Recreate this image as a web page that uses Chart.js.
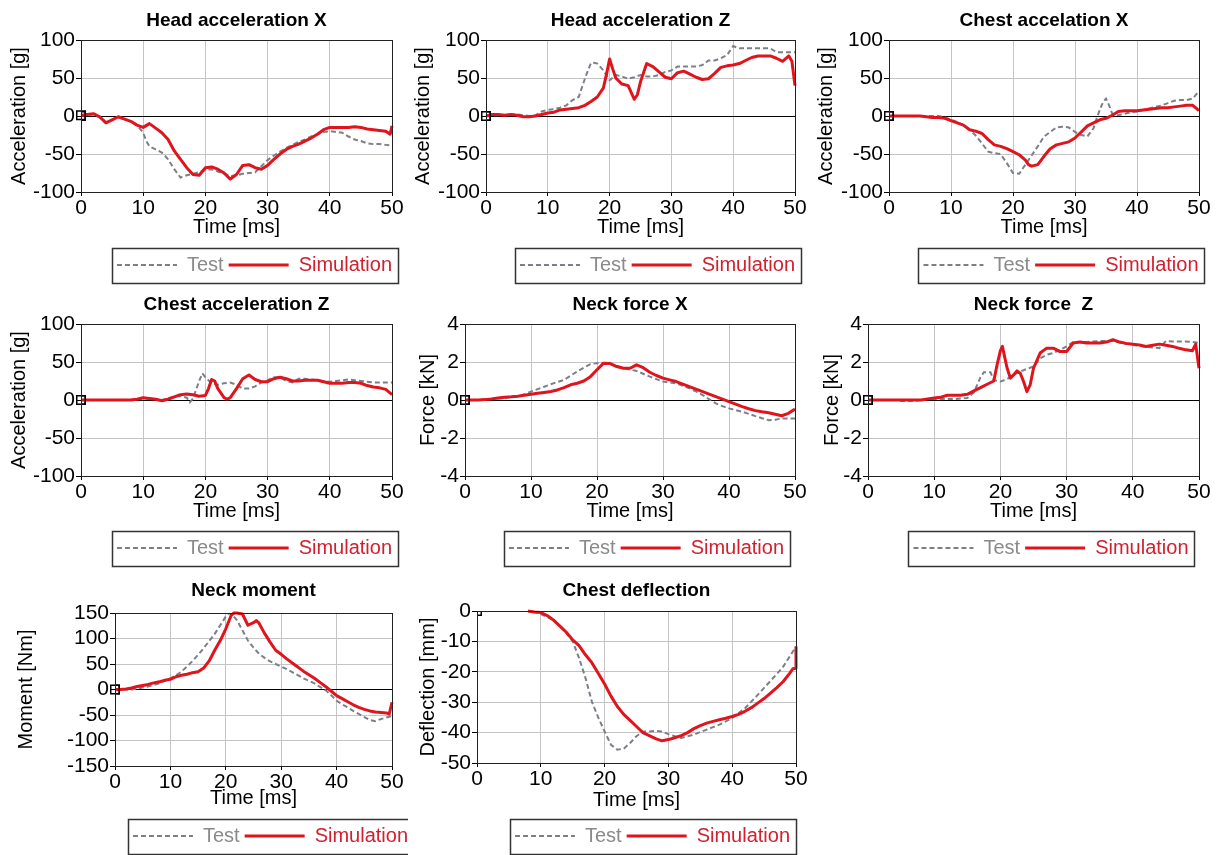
<!DOCTYPE html>
<html>
<head>
<meta charset="utf-8">
<title>Test vs simulation</title>
<script src="https://cdn.jsdelivr.net/npm/chart.js@4.4.0/dist/chart.umd.min.js"></script>
<style>
  body { margin: 0; background: #fff; width: 1220px; height: 855px; overflow: hidden; position: relative; }
  canvas { position: absolute; }
</style>
</head>
<body>
<script>
// time axis shared by series sampled every ms
const ms = [0,1,2,3,4,5,6,7,8,9,10,11,12,13,14,15,16,17,18,19,20,21,22,23,24,25,26,27,28,29,30,31,32,33,34,35,36,37,38,39,40,41,42,43,44,45,46,47,48,49,50];

/* Head acceleration X */
const headXTestT = [0,1,2,3,4,5,6,7,8,9,10,10.5,11,12,13,14,15,16,17,18,19,20,21,22,23,24,25,26,27,28,29,30,31,32,33,34,35,36,37,38,39,40,41,42,43,44,45,46,47,48,49,50];
const headXTest = [0,2,2,-2,-8,-5,-2,-4,-7,-12,-22,-33,-40,-44,-48,-57,-70,-81,-78,-76,-74,-71,-70,-73,-76,-79,-78,-76,-75,-74,-66,-58,-52,-47,-42,-38,-34,-31,-27,-24,-21,-20,-21,-22,-27,-31,-33,-36,-37,-37,-38,-39];
const headXSimT = [0,1,2,3,4,5,6,7,8,9,10,11,12,13,14,15,16,17,18,19,20,21,22,23,24,25,26,27,28,29,30,31,32,33,34,35,36,37,38,39,40,41,42,43,44,45,46,47,48,49,49.7,50];
const headXSim = [1,2,3,-1,-9,-5,-1,-4,-7,-12,-15,-10,-16,-22,-31,-46,-57,-68,-77,-78,-68,-67,-70,-75,-83,-77,-65,-64,-68,-70,-65,-57,-50,-44,-40,-37,-33,-29,-24,-18,-15,-15,-15,-15,-14,-15,-17,-18,-19,-20,-24,-13];

/* Head acceleration Z */
const headZTestT = [0,1,2,3,4,5,6,7,8,9,10,11,12,13,14,15,16,16.5,17,17.5,18,19,20,21,22,23,24,25,26,27,28,29,30,31,32,33,34,35,36,37,38,39,40,41,42,43,44,45,46,47,48,49,50];
const headZTest = [0,1,1,1,2,2,1,0,1,6,8,9,11,14,21,25,49,60,70,70,69,60,47,54,52,49,51,54,52,52,54,58,60,65,65,65,65,67,73,73,76,80,92,89,89,89,89,89,89,84,84,84,84];
const headZSimT = [0,1,2,3,4,5,6,7,8,9,10,11,12,13,14,15,16,17,18,19,19.5,20,20.5,21,22,23,24,24.5,25,26,27,28,29,30,31,32,33,34,35,36,37,38,39,40,41,42,43,44,45,46,47,48,49,49.5,50];
const headZSim = [0,2,2,1,2,1,-1,-1,0,2,4,5,8,9,10,11,14,19,25,37,55,75,62,50,42,40,22,28,45,69,65,58,51,49,57,59,55,51,48,49,56,64,66,67,69,73,77,79,79,79,76,72,79,72,40];

/* Chest acceleration X */
const chestXTestT = [0,1,2,3,4,5,6,7,8,9,10,11,12,13,14,15,16,17,18,19,20,21,22,23,24,25,26,27,28,29,30,31,32,33,33.5,34,34.5,35,35.5,36,37,38,39,40,41,42,43,44,45,46,47,48,49,50];
const chestXTest = [0,0,0,0,0,0,0,0,0,-2,-5,-8,-12,-18,-26,-36,-47,-49,-50,-62,-75,-76,-64,-52,-40,-27,-21,-15,-14,-15,-21,-25,-27,-16,-3,8,18,23,14,3,1,3,5,6,8,10,12,14,17,20,21,21,23,33];
const chestXSimT = [0,1,2,3,4,5,6,7,8,9,10,11,12,13,14,15,16,17,18,19,20,21,22,22.5,23,24,25,26,27,28,29,30,31,32,33,34,35,36,37,38,39,40,41,42,43,44,45,46,47,48,49,50];
const chestXSim = [0,0,0,0,0,0,-1,-2,-2,-3,-6,-9,-12,-18,-20,-23,-31,-38,-40,-43,-47,-51,-58,-64,-66,-64,-53,-43,-38,-36,-34,-29,-21,-13,-9,-5,-3,1,6,7,7,7,8,9,10,11,11,12,13,14,14,7];

/* Chest acceleration Z */
const chestZTestT = [0,1,2,3,4,5,6,7,8,9,10,11,12,13,14,15,16,17,17.5,18,19,19.5,20,21,22,23,24,25,26,27,28,29,30,31,32,33,34,35,36,37,38,39,40,41,42,43,44,45,46,47,48,49,50];
const chestZTest = [0,0,0,0,0,0,0,0,0,1,2,2,1,0,2,5,5,3,-3,2,25,35,30,22,20,22,23,20,15,15,18,23,26,30,30,25,23,28,28,27,26,25,24,25,26,27,26,25,24,23,23,23,23];
const chestZSimT = [0,1,2,3,4,5,6,7,8,9,10,11,12,13,14,15,16,17,18,19,20,20.5,21,21.5,22,23,23.5,24,25,26,27,28,29,30,31,32,33,34,35,36,37,38,39,40,41,42,43,44,45,46,47,48,49,50];
const chestZSim = [0,0,0,0,0,0,0,0,0,1,3,2,1,-1,1,4,7,8,7,5,6,15,27,25,15,3,1,3,15,28,33,27,24,24,28,30,28,25,25,26,26,26,24,22,22,22,23,23,22,19,17,16,14,7];

/* Neck force X */
const neckXTest = [0,0,0,0.02,0.05,0.08,0.1,0.15,0.2,0.3,0.44,0.57,0.7,0.83,0.95,1.06,1.28,1.5,1.7,1.89,1.94,1.95,1.9,1.78,1.68,1.6,1.53,1.38,1.23,1.1,0.97,0.92,0.88,0.75,0.62,0.45,0.26,0.04,-0.18,-0.32,-0.44,-0.53,-0.62,-0.73,-0.85,-0.96,-1.06,-1.04,-0.97,-0.97,-0.97];
const neckXSim = [0,0,0,0.02,0.05,0.1,0.15,0.17,0.2,0.25,0.3,0.35,0.4,0.45,0.53,0.65,0.8,0.88,1.0,1.23,1.59,1.94,1.92,1.76,1.67,1.67,1.85,1.7,1.46,1.29,1.15,1.06,0.97,0.84,0.7,0.57,0.44,0.31,0.18,0.05,-0.09,-0.22,-0.35,-0.46,-0.56,-0.62,-0.67,-0.75,-0.83,-0.7,-0.48];

/* Neck force Z */
const neckZTestT = [0,1,2,3,4,5,6,7,8,9,10,11,12,13,14,15,16,16.5,17,17.5,18,18.5,19,20,21,22,23,24,25,26,27,28,29,30,31,32,33,34,35,36,37,38,39,40,41,42,43,44,45,46,47,48,49,50];
const neckZTest = [0,0,0,0,0,-0.05,-0.05,-0.05,0,0.05,0.05,0.05,0.05,0.05,0.08,0.1,0.4,0.8,1.2,1.46,1.46,1.46,1.06,0.97,1.1,1.32,1.5,1.64,1.76,2.2,2.38,2.47,2.64,2.82,3.05,3.05,3.05,3.08,3.1,3.1,3.1,3.02,2.95,2.9,2.85,2.8,2.76,2.73,3.1,3.08,3.08,3.08,3.05,3.0];
const neckZSimT = [0,1,2,3,4,5,6,7,8,9,10,11,12,13,14,15,16,17,18,19,19.5,20,20.3,21,21.5,22,22.5,23,23.5,24,24.5,25,26,27,28,29,30,31,32,33,34,35,36,37,38,39,40,41,42,43,44,45,46,47,48,49,49.5,50];
const neckZSim = [0,0,0,0,0,0,0,0,0,0.05,0.1,0.15,0.25,0.25,0.25,0.3,0.48,0.65,0.83,1.0,1.85,2.6,2.82,1.7,1.15,1.32,1.53,1.41,0.97,0.44,0.8,1.67,2.47,2.73,2.73,2.55,2.55,3.0,3.05,3.0,3.0,3.0,3.05,3.17,3.05,2.98,2.94,2.9,2.82,2.88,2.94,2.88,2.82,2.72,2.64,2.59,2.94,1.67];

/* Neck moment */
const momentTestT = [0,1,2,3,4,5,6,7,8,9,10,11,12,13,14,15,16,17,18,19,20,20.5,21,22,23,24,25,26,27,28,29,30,31,32,33,34,35,36,37,38,39,40,41,42,43,44,45,46,47,48,49,50];
const momentTest = [0,0,0,0,2,4,6,9,12,17,22,28,35,45,56,68,81,95,109,126,143,149,149,136,116,96,82,70,62,55,50,45,40,34,28,22,17,12,5,-1,-11,-22,-29,-35,-42,-48,-54,-60,-62,-58,-55,-52];
const momentSimT = [0,1,2,3,4,5,6,7,8,9,10,11,12,13,14,15,16,17,18,19,20,21,21.5,22,23,24,25,25.5,26,27,28,29,30,31,32,33,34,35,36,37,38,39,40,41,42,43,44,45,46,47,48,49,49.5,50];
const momentSim = [0,0,1,3,6,8,10,13,15,18,20,25,28,30,33,35,42,56,77,96,119,146,150,150,148,126,131,135,130,110,93,77,69,60,52,44,36,29,22,14,6,-3,-12,-18,-24,-30,-35,-39,-42,-44,-45,-46,-48,-25];

/* Chest deflection */
const deflTestT = [0,8,9,10,11,12,13,14,15,16,17,18,19,20,21,22,23,24,25,26,27,28,29,30,31,32,33,34,35,36,37,38,39,40,41,42,43,44,45,46,47,48,49,50];
const deflTest = [0,0,-0.3,-1,-2,-3,-5,-7.3,-10,-15.5,-22,-29.8,-35,-39.6,-44,-45.6,-45.3,-43.4,-41.2,-39.6,-39.6,-39.4,-39.6,-40.5,-41.2,-41.8,-41.2,-40.7,-39.8,-39,-38.2,-37.4,-36.3,-35.2,-33.6,-32,-29.8,-27.6,-25.3,-23,-20.7,-18.3,-15,-11.7];
const deflSimT = [8,9,10,11,12,13,14,15,16,17,18,19,20,21,22,23,24,25,26,27,28,29,30,31,32,33,34,35,36,37,38,39,40,41,42,43,44,45,46,47,48,49,49.5,50,50];
const deflSim = [0,-0.3,-0.5,-1.5,-3,-5,-7,-9.5,-11.4,-14.4,-17,-20.5,-24,-28,-31.4,-34,-36,-38,-40,-41,-42,-42.7,-42.3,-41.7,-41,-40,-38.7,-37.7,-36.9,-36.3,-35.8,-35.3,-34.7,-34,-33,-31.8,-30.3,-28.8,-27,-25.2,-23.2,-20.5,-19,-18.8,-11.7];

const seriesNames = ['Test', 'Simulation'];

const panels = [
  { title: 'Head acceleration X', yTitle: 'Acceleration [g]', yMin: -100, yMax: 100, yStep: 50, testT: headXTestT, test: headXTest, simT: headXSimT, sim: headXSim },
  { title: 'Head acceleration Z', yTitle: 'Acceleration [g]', yMin: -100, yMax: 100, yStep: 50, testT: headZTestT, test: headZTest, simT: headZSimT, sim: headZSim },
  { title: 'Chest accelation X', yTitle: 'Acceleration [g]', yMin: -100, yMax: 100, yStep: 50, testT: chestXTestT, test: chestXTest, simT: chestXSimT, sim: chestXSim },
  { title: 'Chest acceleration Z', yTitle: 'Acceleration [g]', yMin: -100, yMax: 100, yStep: 50, testT: chestZTestT, test: chestZTest, simT: chestZSimT, sim: chestZSim },
  { title: 'Neck force X', yTitle: 'Force [kN]', yMin: -4, yMax: 4, yStep: 2, testT: ms, test: neckXTest, simT: ms, sim: neckXSim },
  { title: 'Neck force  Z', yTitle: 'Force [kN]', yMin: -4, yMax: 4, yStep: 2, testT: neckZTestT, test: neckZTest, simT: neckZSimT, sim: neckZSim },
  { title: 'Neck moment', yTitle: 'Moment [Nm]', yMin: -150, yMax: 150, yStep: 50, testT: momentTestT, test: momentTest, simT: momentSimT, sim: momentSim },
  { title: 'Chest deflection', yTitle: 'Deflection [mm]', yMin: -50, yMax: 0, yStep: 10, testT: deflTestT, test: deflTest, simT: deflSimT, sim: deflSim }
];

// where each panel sits on the page (plot box edges, y title centre, title gap, legend box)
const frames = [
  { left: 81,  right: 392,  top: 40,  bottom: 192, yTitleX: 19,  titleGap: 20, xTitleGap: 35, legendX: 254.5, legendTop: 250 },
  { left: 486, right: 795,  top: 40,  bottom: 192, yTitleX: 423, titleGap: 20, xTitleGap: 35, legendX: 657.5, legendTop: 250 },
  { left: 889, right: 1199, top: 40,  bottom: 192, yTitleX: 826, titleGap: 20, xTitleGap: 35, legendX: 1061,  legendTop: 250 },
  { left: 81,  right: 392,  top: 324, bottom: 476, yTitleX: 19,  titleGap: 20, xTitleGap: 35, legendX: 254.5, legendTop: 533 },
  { left: 465, right: 795,  top: 324, bottom: 476, yTitleX: 428, titleGap: 20, xTitleGap: 35, legendX: 646.5, legendTop: 533 },
  { left: 868, right: 1199, top: 324, bottom: 476, yTitleX: 832, titleGap: 20, xTitleGap: 35, legendX: 1051,  legendTop: 533 },
  { left: 115, right: 392,  top: 613, bottom: 766, yTitleX: 26,  titleGap: 23, xTitleGap: 32, legendX: 270.5, legendTop: 821 },
  { left: 477, right: 796,  top: 611, bottom: 763, yTitleX: 428, titleGap: 21, xTitleGap: 37, legendX: 652.5, legendTop: 821 }
];

const testColour = '#7b8088';
const simColour = '#e0141c';
const legendText = ['#8a8a8a', '#d2202f'];
const legendStroke = [testColour, simColour];
const legendDash = [[5, 3], []];
const legendWidth = [2, 3];

Chart.defaults.font.family = "'Liberation Sans', Arial, sans-serif";
Chart.defaults.color = '#000';

function points(ts, vs) {
  return ts.map((t, i) => ({ x: t, y: vs[i] }));
}

function alignPx(p) {
  return Math.round(p - 0.5) + 0.5;
}

// small square marker sitting on the origin point
function originMarker(ctx) {
  return (ctx.dataIndex === 0 && ctx.raw && ctx.raw.x === 0) ? 6 : 0;
}

// moves the legend under its own box and draws the frame round it
const legendBox = {
  id: 'legendBox',
  afterLayout(chart, args, opts) {
    const lg = chart.legend;
    const dx = opts.centre - (lg.left + lg.right) / 2;
    lg.left += dx;
    lg.right += dx;
  },
  afterDraw(chart) {
    const hb = chart.legend.legendHitBoxes;
    if (!hb || !hb.length) return;
    const last = hb[hb.length - 1];
    const l = hb[0].left - 5;
    const r = last.left + last.width + 6;
    const t = hb[0].top - 7.5;
    const ctx = chart.ctx;
    ctx.save();
    ctx.strokeStyle = '#333';
    ctx.lineWidth = 1.5;
    ctx.setLineDash([]);
    ctx.strokeRect(Math.round(l) + 0.5, Math.round(t) + 0.5, Math.round(r - l), Math.round(hb[0].height + 15));
    ctx.restore();
  }
};

// dark frame round the plot area
const plotFrame = {
  id: 'plotFrame',
  afterDatasetsDraw(chart) {
    const a = chart.chartArea;
    const ctx = chart.ctx;
    const x0 = alignPx(a.left), x1 = alignPx(a.right);
    const y0 = alignPx(a.top), y1 = alignPx(a.bottom);
    ctx.save();
    ctx.strokeStyle = '#222';
    ctx.lineWidth = 1;
    ctx.strokeRect(x0, y0, x1 - x0, y1 - y0);
    ctx.restore();
  }
};

panels.forEach((p, n) => {
  const f = frames[n];
  const titlePad = f.titleGap - 10;
  const cLeft = Math.round(f.yTitleX - 14);
  const cTop = f.top - 19 - titlePad;
  const yW = f.left - cLeft;
  const xH = f.legendTop - f.bottom;
  const cW = f.right + 16 - cLeft;
  const cH = f.legendTop + 35 - cTop;

  const canvas = document.createElement('canvas');
  canvas.width = cW;
  canvas.height = cH;
  canvas.style.left = cLeft + 'px';
  canvas.style.top = cTop + 'px';
  canvas.style.width = cW + 'px';
  canvas.style.height = cH + 'px';
  document.body.appendChild(canvas);

  new Chart(canvas.getContext('2d'), {
    type: 'line',
    data: {
      datasets: [{
        label: seriesNames[0],
        data: points(p.testT, p.test),
        borderColor: testColour,
        borderWidth: 2,
        borderDash: [5, 3],
        pointStyle: 'rect',
        pointRadius: originMarker,
        pointBorderColor: '#000',
        pointBackgroundColor: 'rgba(255,255,255,0)',
        pointBorderWidth: 1.5,
        order: 1
      }, {
        label: seriesNames[1],
        data: points(p.simT, p.sim),
        borderColor: simColour,
        borderWidth: 3,
        borderJoinStyle: 'round',
        pointStyle: 'rect',
        pointRadius: originMarker,
        pointBorderColor: '#000',
        pointBackgroundColor: 'rgba(255,255,255,0)',
        pointBorderWidth: 1.5,
        clip: false,
        order: 0
      }]
    },
    options: {
      responsive: false,
      animation: false,
      events: [],
      layout: { padding: { right: 16 } },
      plugins: {
        title: {
          display: true,
          text: p.title,
          fullSize: false,
          color: '#000',
          font: { size: 19, weight: 'bold', lineHeight: 1 },
          padding: { top: 0, bottom: titlePad }
        },
        legend: {
          position: 'bottom',
          labels: {
            usePointStyle: true,
            pointStyle: 'line',
            pointStyleWidth: 60,
            padding: 5,
            font: { size: 20 },
            generateLabels(chart) {
              const items = Chart.defaults.plugins.legend.labels.generateLabels(chart);
              items.sort((a, b) => a.datasetIndex - b.datasetIndex);
              items.forEach((it) => {
                const i = it.datasetIndex;
                it.fontColor = legendText[i];
                it.strokeStyle = legendStroke[i];
                it.lineDash = legendDash[i];
                it.lineWidth = legendWidth[i];
                it.pointStyle = 'line';
              });
              return items;
            }
          }
        },
        tooltip: { enabled: false },
        legendBox: { centre: f.legendX - cLeft }
      },
      scales: {
        x: {
          type: 'linear',
          min: 0,
          max: 50,
          ticks: { stepSize: 10, padding: 0, maxRotation: 0, font: { size: 21 }, color: '#000' },
          grid: { color: '#c4c4c4', tickColor: '#000', tickLength: 4 },
          border: { color: '#000' },
          title: { display: true, text: 'Time [ms]', font: { size: 20 }, padding: { top: 0, bottom: xH - 12 - f.xTitleGap } },
          afterFit(scale) { scale.height = xH; }
        },
        y: {
          type: 'linear',
          min: p.yMin,
          max: p.yMax,
          ticks: { stepSize: p.yStep, padding: 1, autoSkip: false, font: { size: 21 }, color: '#000' },
          grid: {
            color: (ctx) => (ctx.tick && ctx.tick.value === 0) ? '#000' : '#c4c4c4',
            tickColor: '#000',
            tickLength: 5
          },
          border: { color: '#000' },
          title: { display: true, text: p.yTitle, font: { size: 20 }, padding: { top: 2, bottom: 0 } },
          afterFit(scale) { scale.width = yW; }
        }
      }
    },
    plugins: [legendBox, plotFrame]
  });
});
</script>
</body>
</html>
